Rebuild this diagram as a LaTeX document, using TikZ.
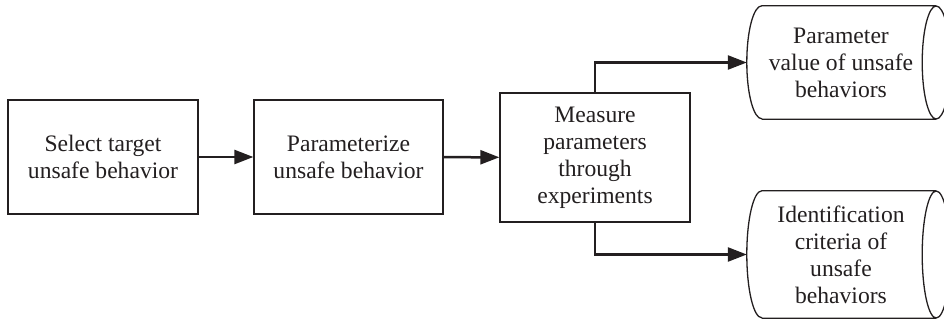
\documentclass[tikz,border=0pt]{standalone}
\usepackage{fontspec}
\setmainfont{Liberation Serif}
\usetikzlibrary{arrows.meta}
\definecolor{ink}{HTML}{231F20}
\begin{document}
\begin{tikzpicture}[x=1pt,y=-1pt,
  every node/.style={text=ink,font=\fontsize{23.6pt}{27pt}\selectfont,align=center,inner sep=0pt},
  procbox/.style={draw=ink,line width=1.3pt},
  datanode/.style={draw=none},
  flow/.style={draw=ink,line width=2.5pt,-{Triangle[length=19pt,width=14pt]}},
  outline/.style={draw=ink,line width=1.3pt}]
\useasboundingbox (0,0) rectangle (944,326);
\node[procbox,minimum width=190pt,minimum height=114pt] (b1) at (103,157) {Select target\\unsafe behavior};
\node[procbox,minimum width=189pt,minimum height=114pt] (b2) at (348.5,157) {Parameterize\\unsafe behavior};
\node[procbox,minimum width=190pt,minimum height=129pt] (b3) at (595,157.5) {Measure\\parameters\\through\\experiments};
\node[datanode,minimum width=189pt,minimum height=113pt] (d1) at (841.5,62.5) {};
\node[datanode,minimum width=189pt,minimum height=127pt] (d2) at (841.5,254.5) {};
\node at (841,62.5) {Parameter\\value of unsafe\\behaviors};
\node at (841,254.5) {Identification\\criteria of\\unsafe\\behaviors};
% stored data outlines
\draw[outline] ([xshift=15pt]d1.north west) -- (d1.north east)
  ([xshift=15pt]d1.south west) -- (d1.south east)
  ([xshift=15pt]d1.north west) arc[start angle=90,end angle=270,x radius=15pt,y radius=56.5pt]
  (d1.east) ellipse[x radius=14pt,y radius=56.5pt];
\draw[outline] ([xshift=15pt]d2.north west) -- (d2.north east)
  ([xshift=15pt]d2.south west) -- (d2.south east)
  ([xshift=15pt]d2.north west) arc[start angle=90,end angle=270,x radius=15pt,y radius=63.5pt]
  (d2.east) ellipse[x radius=14pt,y radius=63.5pt];
% connectors
\draw[flow] (b1) -- (b2);
\draw[flow] (b2) -- (b3);
\draw[flow] (b3.north) |- (d1.west);
\draw[flow] (b3.south) |- (d2.west);
\end{tikzpicture}
\end{document}
